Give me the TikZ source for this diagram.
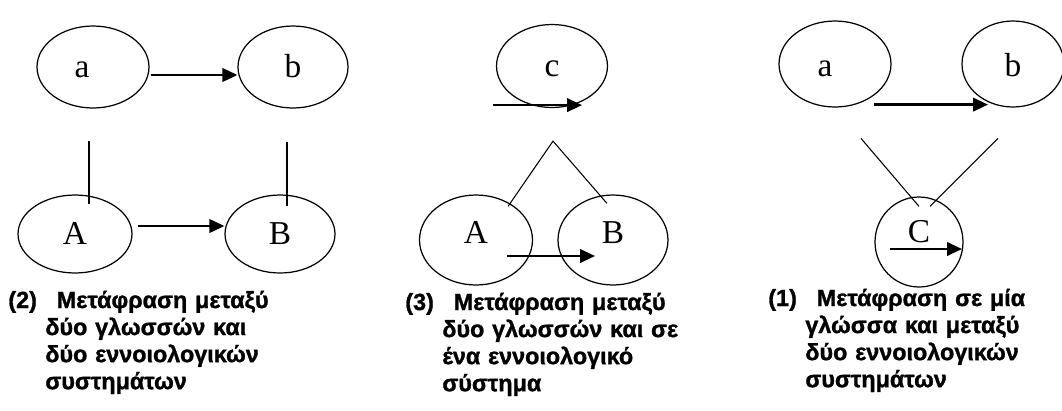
\documentclass[tikz,border=0pt]{standalone}
\usepackage{fontspec}
\setmainfont{Liberation Serif}
\setsansfont{Liberation Sans}[BoldFeatures={FakeBold=1.2}]
\usetikzlibrary{shapes.geometric}
\usetikzlibrary{arrows.meta}

\tikzset{
  bubble/.style={draw, ellipse, line width=0.7pt, inner sep=0pt, text height=0.4cm, text depth=0cm,
    font=\fontsize{19}{19}\selectfont},
  arr/.style={-{Triangle[length=0.3cm,width=0.27cm]}, line width=1.4pt},
  link/.style={line width=0.6pt},
  caption/.style={anchor=base west, inner sep=0pt, text width=7cm, align=left,
    font=\sffamily\bfseries\fontsize{13.3}{15.4}\selectfont}
}

\begin{document}
\begin{tikzpicture}[x=0.02cm,y=-0.02cm]
\useasboundingbox (0,0) rectangle (1062,410);

% two languages, two concept systems
\node [bubble, minimum width=2.24cm, minimum height=1.64cm] (a1) at (93,67) {\hspace*{-0.22cm}a\hspace*{0.22cm}};
\node [bubble, minimum width=2.2cm, minimum height=1.64cm] (b1) at (293,67) {b};
\node [bubble, minimum width=2.28cm, minimum height=1.56cm] (A1) at (75,234) {A};
\node [bubble, minimum width=2.2cm, minimum height=1.56cm] (B1) at (280,234) {B};
\draw [arr] ([shift={(1,8)}]a1.east) -- ([shift={(0,8)}]b1.west);
\draw [arr] ([shift={(5,-8)}]A1.east) -- ([shift={(0,-8)}]B1.west);
\draw [link] ([shift={(14,10)}]A1.north) -- ++(0,-63);
\draw [link] ([shift={(7,12)}]B1.north) -- ++(0,-64);
\node [caption] (cap2) at (8,308) {\leftskip=0.74cm\hspace*{-0.74cm}(2)\hspace{0.85em}Μετάφραση μεταξύ\\
  δύο γλωσσών και\\ δύο εννοιολογικών\\ συστημάτων\par};

% two languages, one concept system
\node [bubble, minimum width=2.22cm, minimum height=1.66cm] (c2) at (552,66) {c};
\node [bubble, minimum width=2.26cm, minimum height=1.8cm, text depth=0.28cm] (A2) at (476,240) {A};
\node [bubble, minimum width=2.2cm, minimum height=1.8cm, text depth=0.28cm] (B2) at (613,240) {B};
\coordinate (top2) at ([shift={(1,33)}]c2.south);
\draw [arr] ([shift={(-59,-3)}]c2.south) -- ([shift={(30,-3)}]c2.south);
\draw [link] ([shift={(32,12)}]A2.north) -- (top2) -- ([shift={(-6,9)}]B2.north);
\draw [arr] ([shift={(31,16)}]A2.center) -- ([shift={(-18,16)}]B2.center);
\node [caption] (cap3) at (405,310) {\leftskip=0.74cm\hspace*{-0.74cm}(3)\hspace{0.85em}Μετάφραση μεταξύ\\
  δύο γλωσσών και σε\\ ένα εννοιολογικό\\ σύστημα\par};

% one language, two concept systems
\node [bubble, minimum width=2.24cm, minimum height=1.72cm, text height=0.5cm] (a3) at (835,64) {\hspace*{-0.2cm}a\hspace*{0.2cm}};
\node [bubble, minimum width=2.04cm, minimum height=1.72cm, text height=0.5cm] (b3) at (1013,64) {b};
\node [bubble, minimum width=1.76cm, minimum height=1.8cm, text height=0cm] (C3) at (919,242) {C};
\draw [arr] ([shift={(39,-3)}]a3.south) -- ([shift={(-25,-3)}]b3.south);
\draw [link] ([shift={(0,10)}]C3.north) -- ++(-58,-68);
\draw [link] ([shift={(11,10)}]C3.north) -- ++(68,-68);
\draw [arr] ([shift={(-29,7)}]C3.center) -- ([shift={(43,7)}]C3.center);
\node [caption] (cap1) at (768,306) {\leftskip=0.74cm\hspace*{-0.74cm}(1)\hspace{0.85em}Μετάφραση σε μία\\
  γλώσσα και μεταξύ\\ δύο εννοιολογικών\\ συστημάτων\par};

\end{tikzpicture}
\end{document}
